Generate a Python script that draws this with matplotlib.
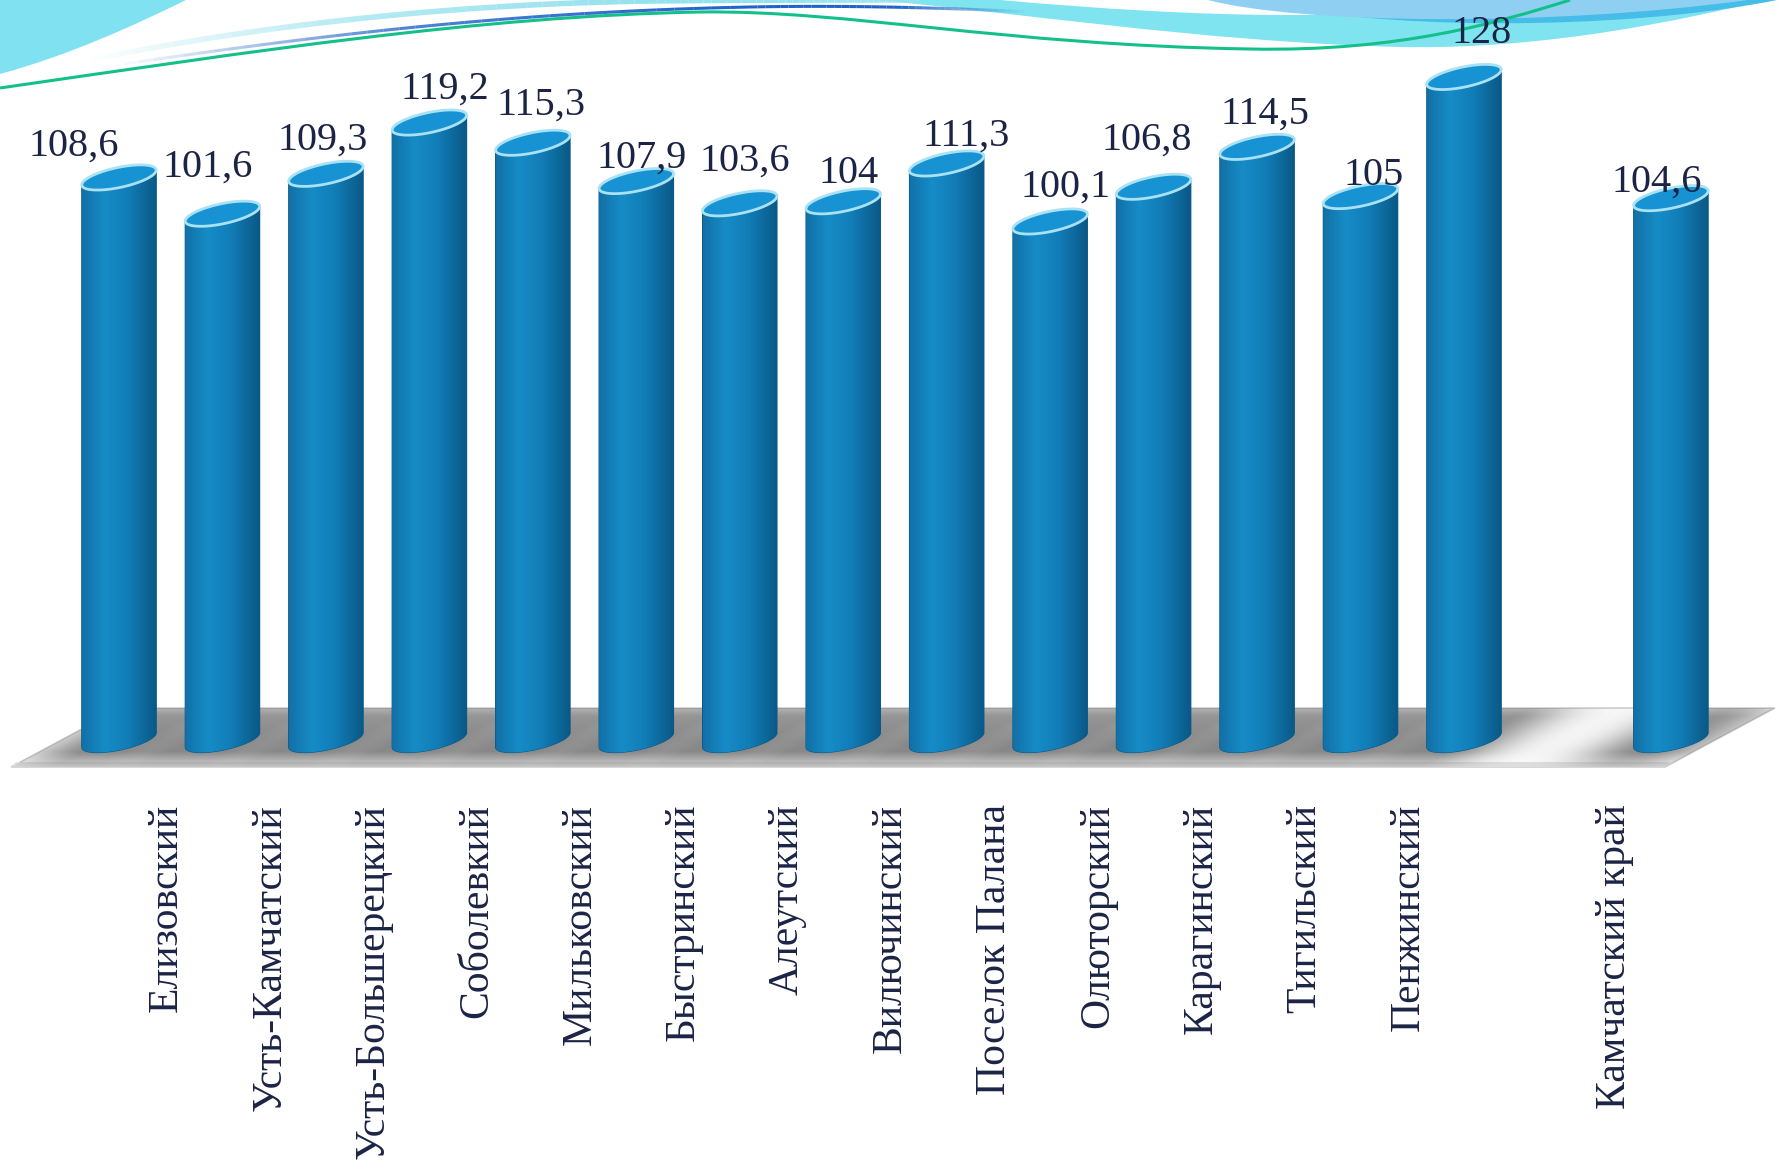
import numpy as np
import matplotlib.pyplot as plt
from matplotlib.colors import LinearSegmentedColormap, to_rgba
from matplotlib.patches import Polygon, PathPatch
from matplotlib.path import Path
from matplotlib.collections import LineCollection

plt.rcParams["font.family"] = ["Liberation Serif", "DejaVu Serif"]

# ---- data -------------------------------------------------------------
regions = ["Елизовский", "Усть-Камчатский", "Усть-Большерецкий", "Соболевкий",
           "Мильковский", "Быстринский", "Алеутский", "Вилючинский",
           "Поселок Палана", "Олюторский", "Карагинский", "Тигильский",
           "Пенжинский", "", "Камчатский край", ""]
values = [108.6, 101.6, 109.3, 119.2, 115.3, 107.9, 103.6, 104.0,
          111.3, 100.1, 106.8, 114.5, 105.0, 128.0, np.nan, 104.6]
value_text = ["108,6", "101,6", "109,3", "119,2", "115,3", "107,9", "103,6", "104",
              "111,3", "100,1", "106,8", "114,5", "105", "128", "", "104,6"]

# ---- layout (pixels on the 1777x1173 canvas, y from the top) -----------
W, H = 1777, 1173
SLOT_PX = 103.46      # distance between category slots
SLOT0_PX = 119.0      # x of first slot
ZERO_PX = 740.0       # y of value 0
UNIT_PX = 5.18        # pixels per value unit
AX_BOTTOM_PX = 790.0
LABEL_SHIFT = 0.46    # category labels sit right of the cylinders

# nudges of the value labels (pixels), as placed in the original chart
label_dx = [-45, -15, -3, 15, 8, 5, 5, 5, 20, 15, -7, 8, 13, 18, 0, -14]
label_dy = [22, 37, 24, 24, 28, 13, 33, 18, 18, 25, 37, 23, 11, 34, 0, 7]

# cylinder geometry (pixels)
ELL_A, ELL_B, ELL_TILT = 38.0, 10.0, np.deg2rad(12)

BODY_CMAP = LinearSegmentedColormap.from_list(
    "cyl", [(0.0, "#1270a6"), (0.3, "#168cc7"), (0.6, "#127eb8"), (1.0, "#0a5886")])
TOP_FACE = "#1792d2"
RIM = "#a8e2f4"
TEXT = "#1c2446"


def px2data(px, py):
    return ((np.asarray(px, float) - SLOT0_PX) / SLOT_PX,
            (ZERO_PX - np.asarray(py, float)) / UNIT_PX)


def bez(start, segs, lines=(), closed=False):
    verts, codes = [start], [Path.MOVETO]
    for c1, c2, end in segs:
        verts += [c1, c2, end]
        codes += [Path.CURVE4] * 3
    for p in lines:
        verts.append(p)
        codes.append(Path.LINETO)
    if closed:
        verts.append(start)
        codes.append(Path.CLOSEPOLY)
    v = np.array(verts, float)
    x, y = px2data(v[:, 0], v[:, 1])
    return Path(np.column_stack([x, y]), codes)


def fading_line(ax, start, segs, color, lw, alphas, z):
    """Bezier decoration line whose opacity runs through `alphas`."""
    pts = [np.array(start, float)]
    p0 = np.array(start, float)
    t = np.linspace(0, 1, 40)[1:, None]
    for c1, c2, end in segs:
        c1, c2, end = map(lambda q: np.array(q, float), (c1, c2, end))
        seg = ((1 - t) ** 3) * p0 + 3 * ((1 - t) ** 2) * t * c1 + 3 * (1 - t) * t ** 2 * c2 + t ** 3 * end
        pts.extend(seg)
        p0 = end
    pts = np.array(pts)
    x, y = px2data(pts[:, 0], pts[:, 1])
    xy = np.column_stack([x, y])
    segs_xy = np.stack([xy[:-1], xy[1:]], axis=1)
    a = np.interp(np.linspace(0, 1, len(segs_xy)), np.linspace(0, 1, len(alphas)), alphas)
    cols = [to_rgba(color, ai) for ai in a]
    ax.add_collection(LineCollection(segs_xy, colors=cols, linewidths=lw,
                                     capstyle="butt", antialiased=True, zorder=z))


def ellipse_xy(cx, cy, t):
    ex = ELL_A * np.cos(t) * np.cos(ELL_TILT) - ELL_B * np.sin(t) * np.sin(ELL_TILT)
    ey = ELL_A * np.cos(t) * np.sin(ELL_TILT) + ELL_B * np.sin(t) * np.cos(ELL_TILT)
    return cx + ex / SLOT_PX, cy + ey / UNIT_PX


fig = plt.figure(figsize=(W / 100, H / 100), dpi=100)
ax = fig.add_axes([0, 1 - AX_BOTTOM_PX / H, 1, AX_BOTTOM_PX / H])
xlim = (-SLOT0_PX / SLOT_PX, (W - SLOT0_PX) / SLOT_PX)
ylim = (-(AX_BOTTOM_PX - ZERO_PX) / UNIT_PX, ZERO_PX / UNIT_PX)

# ---- slide decoration at the top --------------------------------------
ax.add_patch(PathPatch(bez((0, 74), [((70, 55), (135, 25), (186, 0))], [(0, 0)], True),
                       fc="#80e2f0", ec="none", zorder=1))
ax.add_patch(PathPatch(bez((873, 0), [((1000, 10), (1200, 42), (1400, 47)),
                                      ((1550, 50), (1690, 18), (1766, 0)),
                                      ((1700, 0), (1550, 0), (1480, 0)),
                                      ((1380, 22), (1200, 18), (1000, 0))], closed=True),
                       fc="#80e4f0", ec="none", zorder=1))
ax.add_patch(PathPatch(bez((1260, 0), [((1360, 30), (1620, 32), (1777, 0))], closed=True),
                       fc="#45bde8", ec="none", zorder=1.1))
ax.add_patch(PathPatch(bez((1208, 0), [((1300, 24), (1550, 27), (1748, 0))], closed=True),
                       fc="#8ecff2", ec="none", zorder=1.2))
fading_line(ax, (80, 62), [((250, 26), (450, 4), (650, 1)),
                           ((750, 0), (850, 0), (920, 0))], "#94e2ee", 4,
            [0.0, 0.7, 1, 1, 0.8], 1.3)
fading_line(ax, (110, 66), [((300, 38), (500, 12), (750, 7)),
                            ((850, 5), (950, 8), (1030, 12))], "#1f63c8", 2.2,
            [0.0, 0.8, 1, 1, 0.0], 1.6)
ax.add_patch(PathPatch(bez((0, 88), [((250, 52), (480, 16), (700, 12)),
                                     ((850, 10), (1000, 45), (1250, 49)),
                                     ((1400, 52), (1500, 22), (1570, 0))]),
                       fc="none", ec="#14c08a", lw=2.2, zorder=1.5))

# ---- floor with soft shadows -------------------------------------------
floor_px = np.array([(11, 767), (1665, 767), (1775, 708), (121, 708)], float)
fx, fy = px2data(floor_px[:, 0], floor_px[:, 1])
floor = Polygon(np.column_stack([fx, fy]), closed=True, fc="white",
                ec="#cfcfcf", lw=1.2, zorder=2)
ax.add_patch(floor)
sx, sy = px2data([11, 1665, 1670, 16], [767, 767, 762, 762])
ax.add_patch(Polygon(np.column_stack([sx, sy]), closed=True, fc="#e2e2e2",
                     ec="none", zorder=2.1))

xs = np.arange(0, W, 2.0)
ys = np.arange(706, 769, 1.0)
X, Y = np.meshgrid(xs, ys)
S = np.zeros_like(X)
for k, v in enumerate(values):
    if np.isnan(v):
        continue
    cx = SLOT0_PX + k * SLOT_PX
    S += np.exp(-0.5 * ((X - cx - 1.86 * (738 - Y)) / 42.0) ** 2)
P = np.interp(Y, [706, 716, 740, 752, 762, 768], [0.6, 0.9, 1.0, 1.0, 0.6, 0.25])
shade = np.zeros(X.shape + (4,))
shade[..., :3] = 0.42
shade[..., 3] = 0.8 * np.clip(S, 0, 1) * P
ex0, ey0 = px2data([0, W], [768, 706])
im = ax.imshow(shade, extent=(ex0[0], ex0[1], ey0[0], ey0[1]), origin="upper",
               aspect="auto", interpolation="bilinear", zorder=2.2)
im.set_clip_path(floor)

# ---- cylinders ---------------------------------------------------------
t0 = np.arctan2(-ELL_B * np.sin(ELL_TILT), ELL_A * np.cos(ELL_TILT))
half_w = np.hypot(ELL_A * np.cos(ELL_TILT), ELL_B * np.sin(ELL_TILT)) / SLOT_PX
grad = BODY_CMAP(np.linspace(0, 1, 200))[np.newaxis, :, :]
for k, v in enumerate(values):
    if np.isnan(v):
        continue
    bot_x, bot_y = ellipse_xy(k, 0.0, np.linspace(t0 - np.pi, t0, 60))
    top_x, top_y = ellipse_xy(k, v, np.linspace(t0, t0 - np.pi, 60))
    body = Polygon(np.column_stack([np.r_[bot_x, top_x], np.r_[bot_y, top_y]]),
                   closed=True, fc="#1480ba", ec="#0c5a88", lw=0.8, zorder=5)
    ax.add_patch(body)
    g = ax.imshow(grad, extent=(k - half_w, k + half_w, bot_y.min(), top_y.max()),
                  aspect="auto", interpolation="bilinear", zorder=5.1)
    g.set_clip_path(body)
    cx_, cy_ = ellipse_xy(k, v, np.linspace(0, 2 * np.pi, 120))
    ax.add_patch(Polygon(np.column_stack([cx_, cy_]), closed=True, fc=TOP_FACE,
                         ec=RIM, lw=2.0, zorder=5.2))
    ax.annotate(value_text[k], (k, v), xytext=(label_dx[k], label_dy[k]),
                textcoords="offset pixels", ha="center", va="baseline",
                fontsize=29, color=TEXT, zorder=10)

ax.set_xlim(*xlim)
ax.set_ylim(*ylim)

tick_pos = [k + LABEL_SHIFT for k, name in enumerate(regions) if name]
tick_lab = [name for name in regions if name]
ax.set_xticks(tick_pos, labels=tick_lab, rotation=90, fontsize=30, color=TEXT)
ax.tick_params(axis="x", length=0, pad=10)
ax.set_yticks([])
for sp in ax.spines.values():
    sp.set_visible(False)
ax.patch.set_alpha(0)

fig.savefig("out.png", dpi=100, facecolor="white")
